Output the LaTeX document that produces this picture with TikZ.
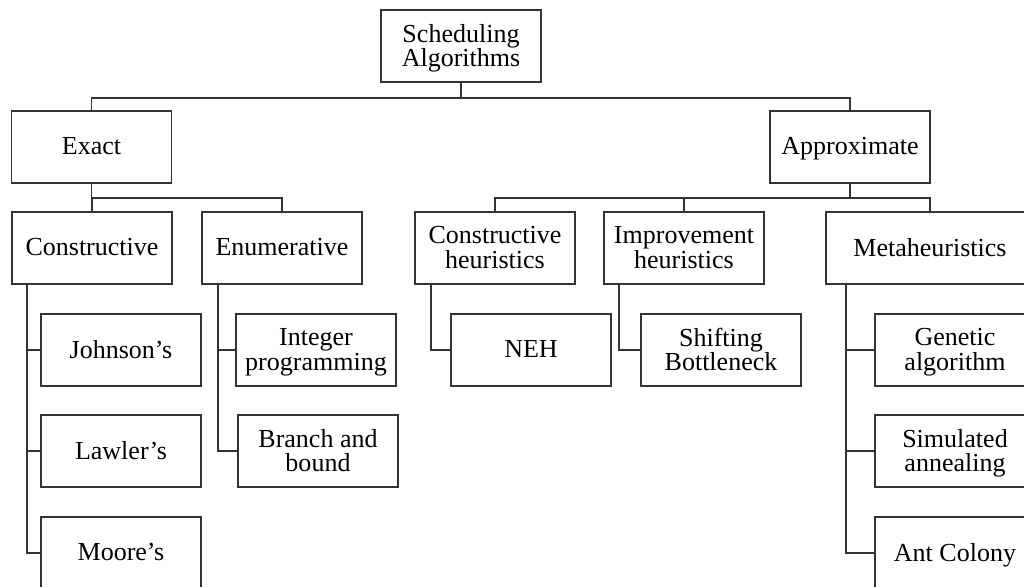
\documentclass[tikz,border=0pt]{standalone}
\usepackage{fontspec}
\setmainfont{Liberation Serif}
\begin{document}
\begin{tikzpicture}[x=0.25mm,y=-0.25mm,
  box/.style={draw=black!80, line width=0.42mm, rectangle, inner sep=0pt,
    minimum width=40mm, minimum height=18mm, align=center, text depth=1pt,
    font=\fontsize{18.5}{17.5}\selectfont},
  wide/.style={minimum width=52mm},
  link/.style={draw=black!80, line width=0.38mm}]
\useasboundingbox (0,0) rectangle (1024,586);
\clip (0,0) rectangle (1024,586);

% top levels
\node[box] (root) at (461,46) {Scheduling\\Algorithms};
\node[box] (exact) at (91.5,147) {Exact};
\node[box] (approx) at (850,147) {Approximate};

% second level
\node[box] (cons) at (92,248) {Constructive};
\node[box] (enum) at (282,248) {Enumerative};
\node[box] (ch) at (495,248) {Constructive\\heuristics};
\node[box] (ih) at (684,248) {Improvement\\heuristics};
\node[box,wide] (meta) at (930,248) {Metaheuristics};

% leaves
\node[box] (john) at (121,350) {Johnson’s};
\node[box] (lawler) at (121,451) {Lawler’s};
\node[box] (moore) at (121,553) {Moore’s};
\node[box] (intprog) at (316,350) {Integer\\programming};
\node[box] (bb) at (318,451) {Branch and\\bound};
\node[box] (neh) at (531,350) {NEH};
\node[box] (sb) at (721,350) {Shifting\\Bottleneck};
\node[box] (ga) at (955,350) {Genetic\\algorithm};
\node[box] (sa) at (955,451) {Simulated\\annealing};
\node[box] (ac) at (955,553) {Ant Colony};

% tree connectors
\draw[link] (root.south) -- ++(0,15) -| (exact.north);
\draw[link] (root.south) -- ++(0,15) -| (approx.north);
\draw[link] (exact.south) -- ++(0,14) -| (cons.north);
\draw[link] (exact.south) -- ++(0,14) -| (enum.north);
\draw[link] (approx.south) -- ++(0,14) -| (ch.north);
\draw[link] (approx.south) -- ++(0,14) -| (ih.north);
\draw[link] (approx.south) -- ++(0,14) -| (meta.north);

% side trunks
\path (cons.south west) ++(16,0) coordinate (tc);
\path (enum.south west) ++(17,0) coordinate (te);
\path (ch.south west) ++(17,0) coordinate (tch);
\path (ih.south west) ++(16,0) coordinate (tih);
\path (meta.south west) ++(21,0) coordinate (tm);

\draw[link] (tc) |- (john.west);
\draw[link] (tc) |- (lawler.west);
\draw[link] (tc) |- (moore.west);
\draw[link] (te) |- (intprog.west);
\draw[link] (te) |- (bb.west);
\draw[link] (tch) |- (neh.west);
\draw[link] (tih) |- (sb.west);
\draw[link] (tm) |- (ga.west);
\draw[link] (tm) |- (sa.west);
\draw[link] (tm) |- (ac.west);
\end{tikzpicture}
\end{document}
